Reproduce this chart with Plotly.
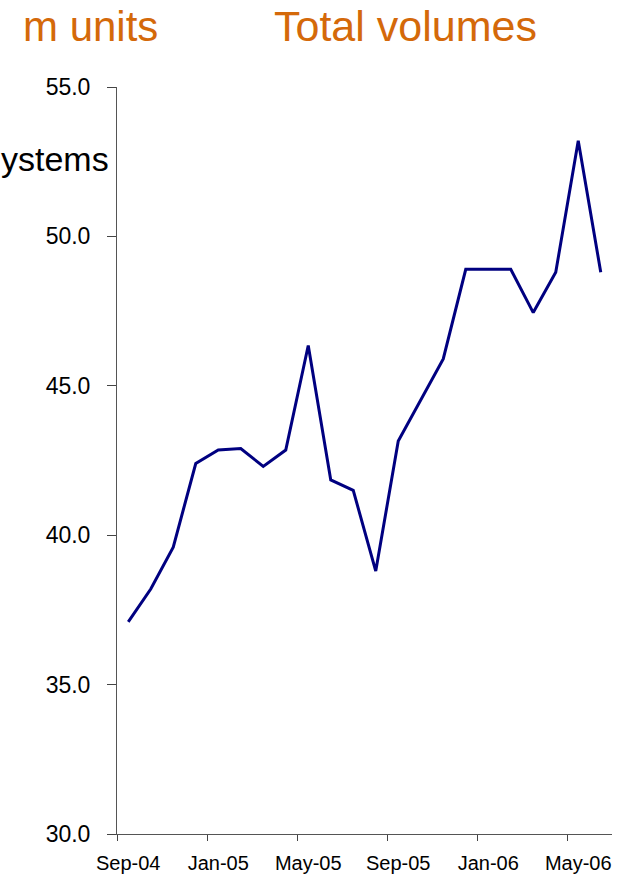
import plotly.graph_objects as go

months = ["Sep-04", "Oct-04", "Nov-04", "Dec-04", "Jan-05", "Feb-05", "Mar-05", "Apr-05",
          "May-05", "Jun-05", "Jul-05", "Aug-05", "Sep-05", "Oct-05", "Nov-05", "Dec-05",
          "Jan-06", "Feb-06", "Mar-06", "Apr-06", "May-06", "Jun-06"]
volumes = [37.1, 38.2, 39.6, 42.4, 42.85, 42.9, 42.3, 42.85,
           46.35, 41.85, 41.5, 38.8, 43.15, 44.5, 45.9, 48.9,
           48.9, 48.9, 47.45, 48.8, 53.2, 48.8]
y_ticks = [30, 35, 40, 45, 50, 55]
x_label_months = ["Sep-04", "Jan-05", "May-05", "Sep-05", "Jan-06", "May-06"]

W, H = 621, 875
L, R, T, B = 117, 9, 87, 41
PW, PH = W - L - R, H - T - B


def px(x):
    return (x - L) / PW


def py(y):
    return (H - B - y) / PH


# tick marks sit on the left boundary of each labelled month
boundary_ticks = [months.index(m) - 0.5 for m in x_label_months]

fig = go.Figure()
fig.add_trace(go.Scatter(
    x=months, y=volumes, mode="lines",
    line=dict(color="#000080", width=3),
    showlegend=False, hoverinfo="skip",
))

orange = "#D4690A"
fig.update_layout(
    width=W, height=H,
    margin=dict(l=L, r=R, t=T, b=B, pad=0, autoexpand=False),
    paper_bgcolor="white", plot_bgcolor="white",
    xaxis=dict(
        type="category",
        categoryorder="array", categoryarray=months,
        range=[-0.5, len(months) - 0.5],
        tickmode="array", tickvals=x_label_months, ticktext=x_label_months,
        tickangle=0, automargin=False,
        ticks="",
        showline=True, linecolor="#555", linewidth=1,
        showgrid=False, zeroline=False,
        tickfont=dict(family="Liberation Sans, Arial", size=20, color="black"),
        ticklabelstandoff=11,
    ),
    xaxis2=dict(
        overlaying="x", side="bottom", anchor="y",
        range=[-0.5, len(months) - 0.5],
        tickmode="array", tickvals=boundary_ticks, ticktext=[""] * len(boundary_ticks),
        ticks="outside", ticklen=6, tickwidth=1, tickcolor="#444",
        showline=False, showgrid=False, zeroline=False, automargin=False,
    ),
    yaxis=dict(
        range=[30, 55], tickmode="array", tickvals=y_ticks,
        tickformat=".1f", automargin=False,
        ticks="outside", ticklen=9, tickwidth=1, tickcolor="#444",
        showline=True, linecolor="#555", linewidth=1,
        showgrid=False, zeroline=False,
        tickfont=dict(family="Liberation Sans, Arial", size=23, color="black"),
        ticklabelstandoff=12,
    ),
    annotations=[
        dict(text="m units", xref="paper", yref="paper", x=px(21), y=py(26),
             xanchor="left", yanchor="middle", showarrow=False,
             font=dict(family="Liberation Sans, Arial", size=42, color=orange)),
        dict(text="Total volumes", xref="paper", yref="paper", x=px(272), y=py(26),
             xanchor="left", yanchor="middle", showarrow=False,
             font=dict(family="Liberation Sans, Arial", size=43, color=orange)),
        dict(text="ystems", xref="paper", yref="paper", x=px(111), y=py(159),
             xanchor="right", yanchor="middle", showarrow=False,
             font=dict(family="Liberation Sans, Arial", size=34, color="black")),
    ],
)
# invisible helper trace so the tick-mark axis is drawn
fig.add_trace(go.Scatter(x=[None], y=[None], xaxis="x2", yaxis="y",
                         showlegend=False, hoverinfo="skip"))

fig.write_html("out.html")
